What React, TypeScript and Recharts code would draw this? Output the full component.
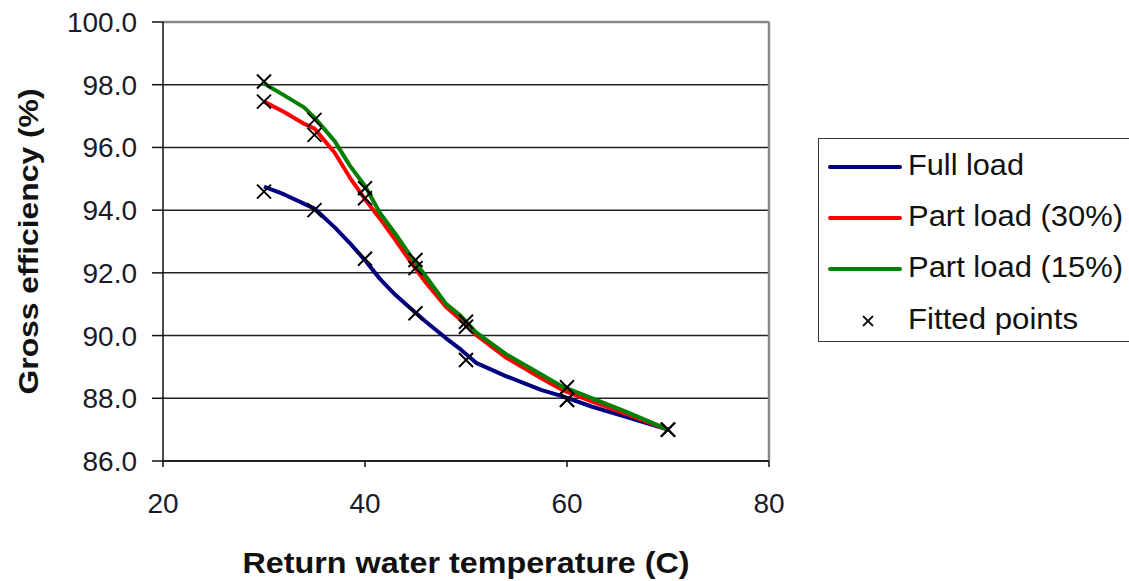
import React from 'react';
import { ComposedChart, Line, Scatter, XAxis, YAxis, CartesianGrid, ReferenceLine } from 'recharts';

const curveTemps = [30, 32, 34, 35, 37, 38.5, 40, 41.5, 43, 44.5, 46, 48, 49.5, 51, 54, 57.5, 59.5, 62.5, 66, 70];
const fullLoad = [94.75, 94.5, 94.2, 94.05, 93.45, 92.95, 92.4, 91.8, 91.3, 90.87, 90.45, 89.92, 89.55, 89.13, 88.7, 88.26, 88.07, 87.73, 87.39, 87.0];
const partLoad30 = [97.46, 97.13, 96.75, 96.6, 95.83, 95.04, 94.35, 93.72, 93.05, 92.36, 91.7, 90.92, 90.5, 90.02, 89.29, 88.63, 88.27, 87.89, 87.49, 87.0];
const partLoad15 = [98.04, 97.66, 97.27, 96.95, 96.2, 95.42, 94.77, 93.9, 93.25, 92.55, 91.9, 91.02, 90.62, 90.1, 89.4, 88.75, 88.38, 88.0, 87.55, 87.0];

const fittedTemps = [30, 35, 40, 45, 50, 60, 70];
const fittedFull = [94.59, 94.0, 92.45, 90.71, 89.22, 87.95, 87.0];
const fitted30 = [97.46, 96.4, 94.38, 92.15, 90.28, 87.95, 87.0];
const fitted15 = [98.1, 96.88, 94.7, 92.41, 90.44, 88.35, 87.0];

const xTicks = [20, 40, 60, 80];
const yTicks = [86, 88, 90, 92, 94, 96, 98, 100];
const gridValues = [86, 88, 90, 92, 94, 96, 98];

const seriesNames = ['Full load', 'Part load (30%)', 'Part load (15%)'];
const seriesColors = ['#000080', '#ff0000', '#008000'];
const fittedName = 'Fitted points';

const toRows = (xs: number[], ys: number[]) => xs.map((x, i) => ({ x, y: ys[i] }));

const curves = [fullLoad, partLoad30, partLoad15].map((ys) => toRows(curveTemps, ys));
const fitted = [fittedFull, fitted30, fitted15].flatMap((ys) => toRows(fittedTemps, ys));

const FONT = '"Liberation Sans", Arial, sans-serif';

const Cross = (props: any) => {
  const { cx, cy } = props;
  if (cx == null || cy == null) return null;
  const s = 7;
  return (
    <g>
      <line x1={cx - s} y1={cy - s} x2={cx + s} y2={cy + s} stroke="#000" strokeWidth={2} />
      <line x1={cx - s} y1={cy + s} x2={cx + s} y2={cy - s} stroke="#000" strokeWidth={2} />
    </g>
  );
};

const XTitle = (props: any) => {
  const vb = props.viewBox || {};
  const cx = vb.x + vb.width / 2;
  return (
    <text x={cx} y={vb.y + 112} textAnchor="middle" fontFamily={FONT} fontWeight="bold" fontSize={30}
      fill="#111" textLength={447} lengthAdjust="spacingAndGlyphs">
      Return water temperature (C)
    </text>
  );
};

const YTitle = (props: any) => {
  const vb = props.viewBox || {};
  const cy = vb.y + vb.height / 2;
  const cx = 29;
  return (
    <text x={cx} y={cy} textAnchor="middle" dominantBaseline="central" fontFamily={FONT} fontWeight="bold"
      fontSize={27} fill="#111" transform={`rotate(-90, ${cx}, ${cy})`} textLength={306} lengthAdjust="spacingAndGlyphs">
      Gross efficiency (%)
    </text>
  );
};

const legendTextWidths = [116, 215, 215];

const LegendBox = () => {
  const rowY = [28, 79, 130];
  return (
    <div style={{ position: 'absolute', left: 818, top: 138, width: 330, height: 204, boxSizing: 'border-box', border: '1.5px solid #333', background: '#fff' }}>
      <svg width={330} height={204} style={{ position: 'absolute', left: 0, top: 0 }}>
        {seriesNames.map((n, i) => (
          <g key={n}>
            <line x1={11} x2={81} y1={rowY[i]} y2={rowY[i]} stroke={seriesColors[i]} strokeWidth={4} strokeLinecap="round" />
            <text x={89} y={rowY[i] + 8} fontFamily={FONT} fontSize={29} fill="#111"
              textLength={legendTextWidths[i]} lengthAdjust="spacingAndGlyphs">{n}</text>
          </g>
        ))}
        <g>
          <line x1={44} y1={177} x2={54} y2={187} stroke="#111" strokeWidth={1.8} />
          <line x1={44} y1={187} x2={54} y2={177} stroke="#111" strokeWidth={1.8} />
          <text x={89} y={190} fontFamily={FONT} fontSize={29} fill="#111" textLength={170} lengthAdjust="spacingAndGlyphs">{fittedName}</text>
        </g>
      </svg>
    </div>
  );
};

export default function App() {
  return (
    <div style={{ position: 'absolute', left: 0, top: 0, width: 1129, height: 581, background: '#fff', overflow: 'hidden' }}>
      <ComposedChart width={1129} height={581} margin={{ top: 22, right: 360, bottom: 0, left: 0 }}>
        <CartesianGrid vertical={false} horizontalValues={gridValues} stroke="#222" strokeWidth={1.5} />
        <XAxis dataKey="x" type="number" domain={[20, 80]} ticks={xTicks} allowDataOverflow
          height={120} tickSize={6} tickMargin={26} stroke="#111" strokeWidth={1.5}
          tick={{ fontSize: 28, fontFamily: FONT, fill: '#1a1a2a' }} label={<XTitle />} />
        <YAxis dataKey="y" type="number" domain={[86, 100]} ticks={yTicks} allowDataOverflow
          width={163} tickSize={11} tickMargin={15} stroke="#111" strokeWidth={1.5}
          tickFormatter={(v: number) => v.toFixed(1)}
          tick={{ fontSize: 28, fontFamily: FONT, fill: '#1a1a2a' }} label={<YTitle />} />
        <ReferenceLine y={100} stroke="#888" strokeWidth={2.5} ifOverflow="visible" />
        <ReferenceLine x={80} stroke="#888" strokeWidth={2.5} ifOverflow="visible" />
        {curves.map((d, i) => (
          <Line key={seriesNames[i]} data={d} dataKey="y" name={seriesNames[i]} type="linear"
            stroke={seriesColors[i]} strokeWidth={4} strokeLinejoin="round" dot={false} activeDot={false} isAnimationActive={false} />
        ))}
        <Scatter data={fitted} dataKey="y" name={fittedName} shape={<Cross />} isAnimationActive={false} />
      </ComposedChart>
      <LegendBox />
    </div>
  );
}
